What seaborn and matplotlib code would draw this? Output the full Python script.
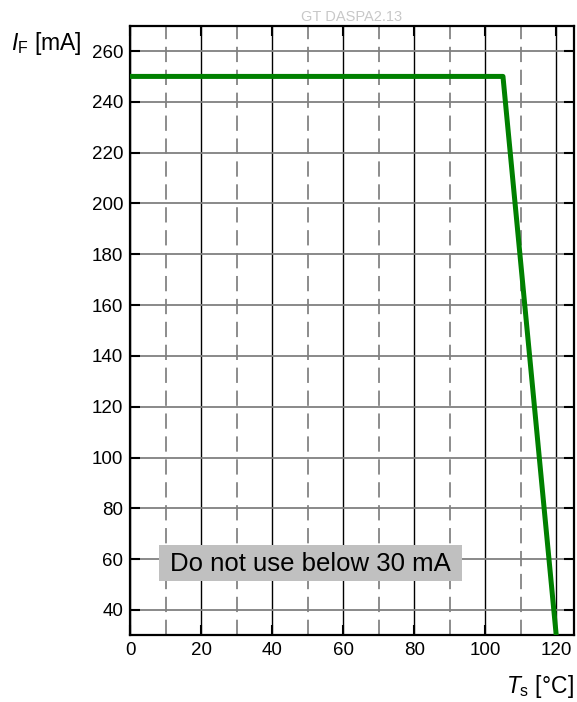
import matplotlib

matplotlib.use("Agg")
import matplotlib.pyplot as plt
import matplotlib.patches as mpatches
import pandas as pd
import seaborn as sns

# derating curve: forward current vs. solder point temperature
temperature = [0, 105, 120]
forward_current = [250, 250, 30]

x_major = [0, 20, 40, 60, 80, 100, 120]
x_minor = [10, 30, 50, 70, 90, 110]
y_major = [40, 60, 80, 100, 120, 140, 160, 180, 200, 220, 240, 260]


def main():
    sns.set_style("ticks")
    plt.rcParams["font.family"] = ["Liberation Sans", "DejaVu Sans"]
    plt.rcParams["mathtext.fontset"] = "custom"
    plt.rcParams["mathtext.rm"] = "Liberation Sans"
    plt.rcParams["mathtext.it"] = "Liberation Sans:italic"
    plt.rcParams["text.color"] = "black"

    df = pd.DataFrame({"T": temperature, "I": forward_current})

    fig = plt.figure(figsize=(5.77, 7.02), dpi=100)
    ax = fig.add_axes([130 / 577, 66.6 / 702, 444 / 577, 609.8 / 702])

    sns.lineplot(data=df, x="T", y="I", sort=False, color="#008000", lw=3.6,
                 ax=ax, zorder=5)

    ax.set_xlim(0, 125)
    ax.set_ylim(30, 270)
    ax.set_xticks(x_major)
    ax.set_xticks(x_minor, minor=True)
    ax.set_yticks(y_major)
    ax.set_xlabel("")
    ax.set_ylabel("")

    ax.grid(axis="x", which="major", color="black", lw=1.0)
    ax.grid(axis="x", which="minor", color="#6e6e6e", lw=1.1, ls=(0, (10, 5)))
    ax.grid(axis="y", which="major", color="#808080", lw=1.3)
    ax.set_axisbelow(True)

    ax.tick_params(axis="both", which="major", direction="in", length=7,
                   width=1.5, color="black", labelcolor="black",
                   labelsize=13.5, pad=5, right=True, top=True)
    ax.tick_params(axis="both", which="minor", length=0)
    for sp in ax.spines.values():
        sp.set_visible(True)
        sp.set_linewidth(1.6)
        sp.set_color("black")

    # grey note box
    ax.add_patch(mpatches.Rectangle((8.2, 51.3), 85.3, 14.2, facecolor="#c0c0c0",
                                    edgecolor="none", zorder=3))
    ax.text(11.3, 58.2, "Do not use below 30 mA", fontsize=18.5, va="center",
            ha="left", color="black", zorder=4)

    fig.text(352 / 577, 1 - 21 / 702, "GT DASPA2.13", color="#c8c8c8",
             fontsize=10.5, ha="center", va="baseline")
    fig.text(11 / 577, 1 - 50 / 702, r"$\mathit{I}_{\mathrm{F}}$ [mA]",
             fontsize=16.5, ha="left", va="baseline", color="black")
    fig.text(574 / 577, 1 - 693 / 702, r"$\mathit{T}_{\mathrm{s}}$ [°C]",
             fontsize=16.5, ha="right", va="baseline", color="black")

    fig.savefig("out.png", dpi=100)


if __name__ == "__main__":
    main()
